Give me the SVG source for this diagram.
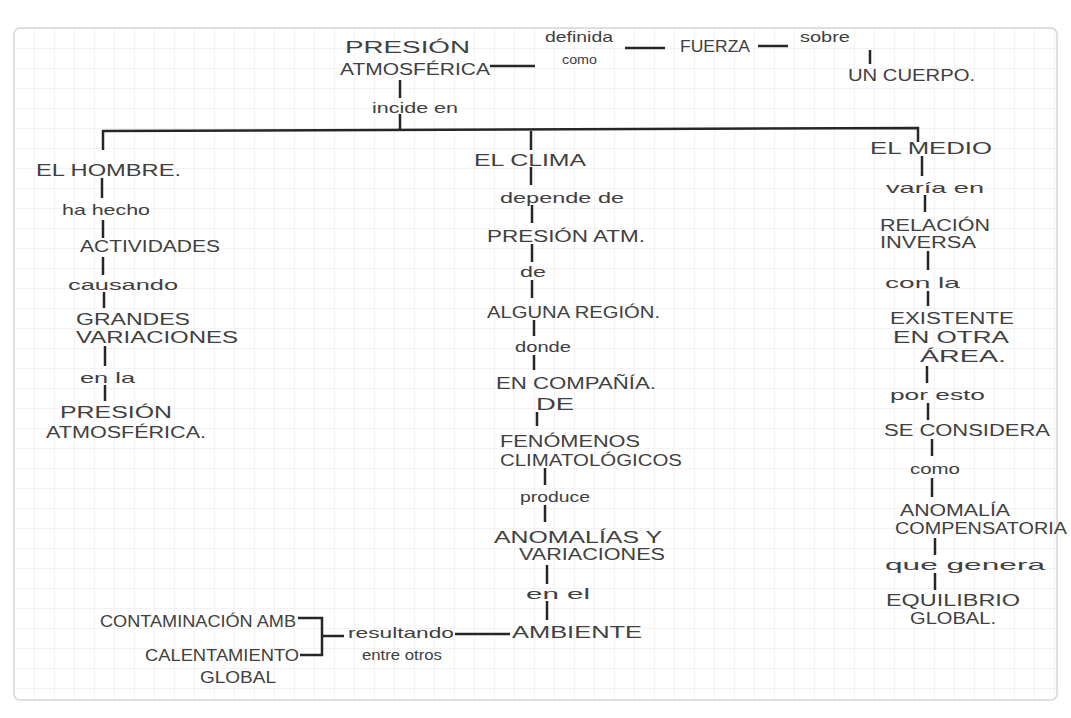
<svg xmlns="http://www.w3.org/2000/svg" width="1071" height="718" viewBox="0 0 1071 718">
<defs>
<pattern id="grid" x="14" y="28" width="20" height="20" patternUnits="userSpaceOnUse">
<path d="M20 0 L0 0 0 20" fill="none" stroke="#e8e8e8" stroke-width="1"/>
</pattern>
</defs>
<style>
text{font-family:"Liberation Sans",Arial,sans-serif;fill:#404040;font-size:16px;text-anchor:start}
.lc{font-size:15px}
.sm{font-size:12px}
.c line,.c path{stroke:#262626;stroke-width:2.5;fill:none}
</style>
<rect width="1071" height="718" fill="#ffffff"/>
<rect x="14" y="28" width="1043" height="672" fill="url(#grid)" stroke="#d6d6d6" stroke-width="1.5" rx="6"/>

<g class="c" id="connectors">
<line x1="490" y1="66" x2="535" y2="66"/>
<line x1="625" y1="48" x2="665" y2="48"/>
<line x1="758" y1="46" x2="788" y2="46"/>
<line x1="870" y1="50" x2="870" y2="64"/>
<line x1="400" y1="80" x2="400" y2="98"/>
<line x1="400" y1="114" x2="400" y2="131"/>
<path d="M103 150 L103 131 L918 128 L918 142"/>
<line x1="531" y1="131" x2="531" y2="150"/>
<line x1="102" y1="178" x2="102" y2="198"/>
<line x1="103" y1="220" x2="103" y2="238"/>
<line x1="103" y1="257" x2="103" y2="275"/>
<line x1="104" y1="292" x2="104" y2="308"/>
<line x1="105" y1="346" x2="105" y2="366"/>
<line x1="105" y1="385" x2="105" y2="401"/>
<line x1="531" y1="167" x2="531" y2="185"/>
<line x1="532" y1="205" x2="532" y2="223"/>
<line x1="532" y1="244" x2="532" y2="262"/>
<line x1="532" y1="280" x2="532" y2="298"/>
<line x1="534" y1="320" x2="534" y2="336"/>
<line x1="534" y1="355" x2="534" y2="370"/>
<line x1="537" y1="412" x2="537" y2="426"/>
<line x1="545" y1="468" x2="545" y2="485"/>
<line x1="545" y1="505" x2="545" y2="522"/>
<line x1="547" y1="565" x2="547" y2="584"/>
<line x1="547" y1="601" x2="547" y2="620"/>
<line x1="922" y1="156" x2="922" y2="176"/>
<line x1="925" y1="195" x2="925" y2="212"/>
<line x1="928" y1="251" x2="928" y2="270"/>
<line x1="928" y1="291" x2="928" y2="306"/>
<line x1="927" y1="366" x2="927" y2="383"/>
<line x1="928" y1="403" x2="928" y2="420"/>
<line x1="932" y1="439" x2="932" y2="456"/>
<line x1="932" y1="478" x2="932" y2="497"/>
<line x1="935" y1="538" x2="935" y2="555"/>
<line x1="935" y1="573" x2="935" y2="590"/>
<path d="M298 618 L322 618 L322 655 L300 655"/>
<line x1="322" y1="636" x2="344" y2="636"/>
<line x1="455" y1="634" x2="510" y2="634"/>
</g>

<g id="presion-atmosferica"><text x="345" y="53" textLength="125" lengthAdjust="spacingAndGlyphs">PRESIÓN</text><text x="340" y="75" textLength="150" lengthAdjust="spacingAndGlyphs">ATMOSFÉRICA</text></g>
<g id="definida-como"><text class="lc" x="545" y="42" textLength="68" lengthAdjust="spacingAndGlyphs">definida</text><text class="sm" x="562" y="64" textLength="35" lengthAdjust="spacingAndGlyphs">como</text></g>
<g id="fuerza"><text x="680" y="52" textLength="70" lengthAdjust="spacingAndGlyphs">FUERZA</text></g>
<g id="sobre"><text class="lc" x="800" y="42" textLength="50" lengthAdjust="spacingAndGlyphs">sobre</text></g>
<g id="un-cuerpo"><text x="848" y="81" textLength="127" lengthAdjust="spacingAndGlyphs">UN CUERPO.</text></g>
<g id="incide-en"><text class="lc" x="372" y="113" textLength="86" lengthAdjust="spacingAndGlyphs">incide en</text></g>

<g id="el-hombre"><text x="36" y="176" textLength="145" lengthAdjust="spacingAndGlyphs">EL HOMBRE.</text></g>
<g id="ha-hecho"><text class="lc" x="62" y="215" textLength="88" lengthAdjust="spacingAndGlyphs">ha hecho</text></g>
<g id="actividades"><text x="80" y="252" textLength="140" lengthAdjust="spacingAndGlyphs">ACTIVIDADES</text></g>
<g id="causando"><text class="lc" x="68" y="290" textLength="110" lengthAdjust="spacingAndGlyphs">causando</text></g>
<g id="grandes-variaciones"><text x="76" y="325" textLength="114" lengthAdjust="spacingAndGlyphs">GRANDES</text><text x="76" y="343" textLength="162" lengthAdjust="spacingAndGlyphs">VARIACIONES</text></g>
<g id="en-la"><text class="lc" x="80" y="383" textLength="55" lengthAdjust="spacingAndGlyphs">en la</text></g>
<g id="presion-atmosferica-2"><text x="60" y="418" textLength="112" lengthAdjust="spacingAndGlyphs">PRESIÓN</text><text x="46" y="438" textLength="160" lengthAdjust="spacingAndGlyphs">ATMOSFÉRICA.</text></g>

<g id="el-clima"><text x="474" y="166" textLength="112" lengthAdjust="spacingAndGlyphs">EL CLIMA</text></g>
<g id="depende-de"><text class="lc" x="500" y="203" textLength="124" lengthAdjust="spacingAndGlyphs">depende de</text></g>
<g id="presion-atm"><text x="487" y="242" textLength="158" lengthAdjust="spacingAndGlyphs">PRESIÓN ATM.</text></g>
<g id="de"><text class="lc" x="520" y="277" textLength="26" lengthAdjust="spacingAndGlyphs">de</text></g>
<g id="alguna-region"><text x="487" y="318" textLength="173" lengthAdjust="spacingAndGlyphs">ALGUNA REGIÓN.</text></g>
<g id="donde"><text class="lc" x="515" y="352" textLength="56" lengthAdjust="spacingAndGlyphs">donde</text></g>
<g id="en-compania-de"><text x="496" y="389" textLength="160" lengthAdjust="spacingAndGlyphs">EN COMPAÑÍA.</text><text x="536" y="410" textLength="38" lengthAdjust="spacingAndGlyphs">DE</text></g>
<g id="fenomenos-climatologicos"><text x="500" y="447" textLength="140" lengthAdjust="spacingAndGlyphs">FENÓMENOS</text><text x="500" y="466" textLength="182" lengthAdjust="spacingAndGlyphs">CLIMATOLÓGICOS</text></g>
<g id="produce"><text class="lc" x="520" y="502" textLength="70" lengthAdjust="spacingAndGlyphs">produce</text></g>
<g id="anomalias-variaciones"><text x="494" y="543" textLength="168" lengthAdjust="spacingAndGlyphs">ANOMALÍAS Y</text><text x="519" y="560" textLength="146" lengthAdjust="spacingAndGlyphs">VARIACIONES</text></g>
<g id="en-el"><text class="lc" x="526" y="599" textLength="64" lengthAdjust="spacingAndGlyphs">en el</text></g>
<g id="ambiente"><text x="512" y="638" textLength="130" lengthAdjust="spacingAndGlyphs">AMBIENTE</text></g>

<g id="el-medio"><text x="870" y="154" textLength="122" lengthAdjust="spacingAndGlyphs">EL MEDIO</text></g>
<g id="varia-en"><text class="lc" x="886" y="193" textLength="98" lengthAdjust="spacingAndGlyphs">varía en</text></g>
<g id="relacion-inversa"><text x="880" y="231" textLength="110" lengthAdjust="spacingAndGlyphs">RELACIÓN</text><text x="880" y="248" textLength="96" lengthAdjust="spacingAndGlyphs">INVERSA</text></g>
<g id="con-la"><text class="lc" x="885" y="288" textLength="75" lengthAdjust="spacingAndGlyphs">con la</text></g>
<g id="existente"><text x="890" y="324" textLength="124" lengthAdjust="spacingAndGlyphs">EXISTENTE</text><text x="893" y="343" textLength="116" lengthAdjust="spacingAndGlyphs">EN OTRA</text><text x="920" y="362" textLength="86" lengthAdjust="spacingAndGlyphs">ÁREA.</text></g>
<g id="por-esto"><text class="lc" x="890" y="400" textLength="95" lengthAdjust="spacingAndGlyphs">por esto</text></g>
<g id="se-considera"><text x="884" y="436" textLength="166" lengthAdjust="spacingAndGlyphs">SE CONSIDERA</text></g>
<g id="como"><text class="lc" x="910" y="474" textLength="50" lengthAdjust="spacingAndGlyphs">como</text></g>
<g id="anomalia-compensatoria"><text x="900" y="516" textLength="110" lengthAdjust="spacingAndGlyphs">ANOMALÍA</text><text x="895" y="534" textLength="172" lengthAdjust="spacingAndGlyphs">COMPENSATORIA</text></g>
<g id="que-genera"><text class="lc" x="885" y="570" textLength="160" lengthAdjust="spacingAndGlyphs">que genera</text></g>
<g id="equilibrio-global"><text x="886" y="606" textLength="134" lengthAdjust="spacingAndGlyphs">EQUILIBRIO</text><text x="910" y="624" textLength="86" lengthAdjust="spacingAndGlyphs">GLOBAL.</text></g>

<g id="contaminacion"><text x="100" y="627" textLength="196" lengthAdjust="spacingAndGlyphs">CONTAMINACIÓN AMB</text></g>
<g id="calentamiento-global"><text x="145" y="661" textLength="154" lengthAdjust="spacingAndGlyphs">CALENTAMIENTO</text><text x="200" y="683" textLength="76" lengthAdjust="spacingAndGlyphs">GLOBAL</text></g>
<g id="resultando"><text class="lc" x="348" y="638" textLength="106" lengthAdjust="spacingAndGlyphs">resultando</text><text class="lc" x="362" y="660" textLength="80" lengthAdjust="spacingAndGlyphs">entre otros</text></g>
</svg>
